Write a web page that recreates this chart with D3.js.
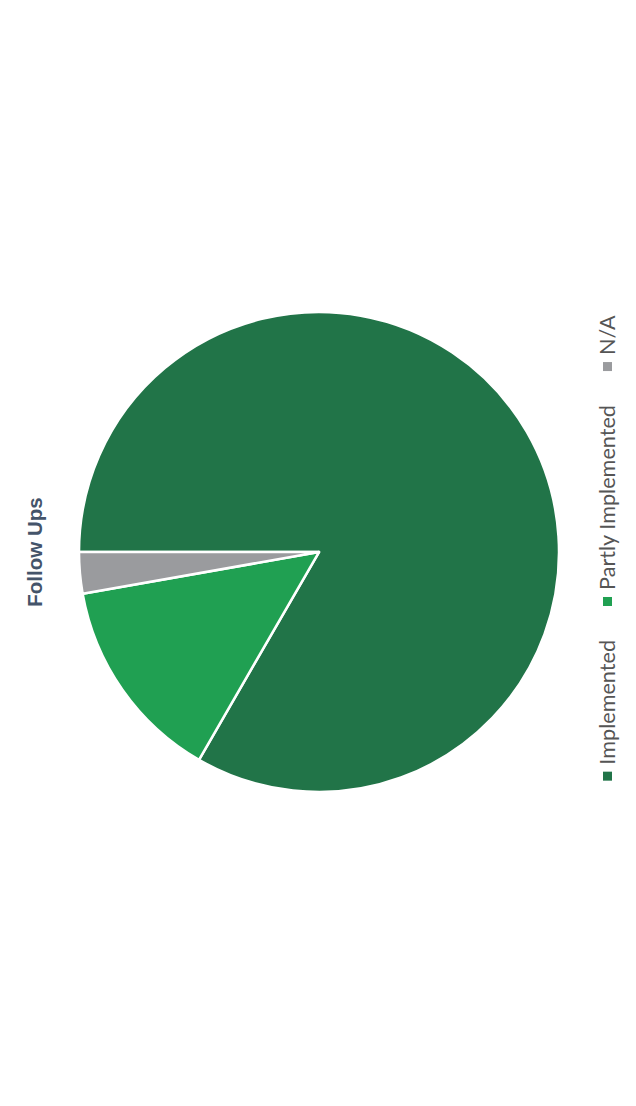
<!DOCTYPE html>
<html>
<head>
<meta charset="utf-8">
<script src="https://cdn.jsdelivr.net/npm/d3@7"></script>
<style>
  html, body { margin: 0; padding: 0; background: #ffffff; }
  svg { display: block; }
</style>
</head>
<body>
<svg id="chart" width="636" height="1106"></svg>
<script>
const title = "Follow Ups";
const categories = ["Implemented", "Partly Implemented", "N/A"];
const values = [30, 5, 1];
const colors = ["#217448", "#20a052", "#9a9b9e"];

const W = 1106, H = 636; // unrotated chart frame
const svg = d3.select("#chart");
const g = svg.append("g").attr("transform", `translate(0,${W}) rotate(-90)`);

// Title
g.append("text")
  .attr("x", 554).attr("y", 42)
  .attr("text-anchor", "middle")
  .attr("font-family", "Liberation Sans, Arial, sans-serif")
  .attr("font-weight", "bold")
  .attr("font-size", 20.5)
  .attr("fill", "#44546a")
  .text(title);

// Pie
const cx = 554, cy = 319, r = 240;
const data = categories.map((c, i) => ({ name: c, value: values[i], color: colors[i] }));
const pie = d3.pie().value(d => d.value).sort(null).startAngle(0).endAngle(2 * Math.PI);
const arc = d3.arc().innerRadius(0).outerRadius(r);
const pg = g.append("g").attr("transform", `translate(${cx},${cy})`);
pg.selectAll("path").data(pie(data)).join("path")
  .attr("d", arc)
  .attr("fill", d => d.data.color)
  .attr("stroke", "#ffffff")
  .attr("stroke-width", 2.5)
  .attr("stroke-linejoin", "round");

// Legend
const legFont = "Lato, Open Sans, sans-serif";
const lg = g.append("g");
// fit font size so "Partly Implemented" is ~185px long
const probe = lg.append("text").attr("font-family", legFont).attr("font-size", 20).text("Partly Implemented");
const probeW = probe.node().getComputedTextLength();
probe.remove();
const legSize = 20 * 185 / probeW;
const sq = 9, sqGap = 7, itemGap = 34, baseY = 615;
const items = data.map(d => {
  const t = lg.append("text").attr("font-family", legFont).attr("font-size", legSize)
    .attr("fill", "#555555").text(d.name);
  return { d, t, w: t.node().getComputedTextLength() };
});
const total = d3.sum(items, it => sq + sqGap + it.w) + itemGap * (items.length - 1);
let x = 558 - total / 2;
items.forEach(it => {
  lg.append("rect").attr("x", x).attr("y", baseY - 7 - sq / 2 - 0.5)
    .attr("width", sq).attr("height", sq).attr("fill", it.d.color);
  it.t.attr("x", x + sq + sqGap).attr("y", baseY);
  x += sq + sqGap + it.w + itemGap;
});
</script>
</body>
</html>
